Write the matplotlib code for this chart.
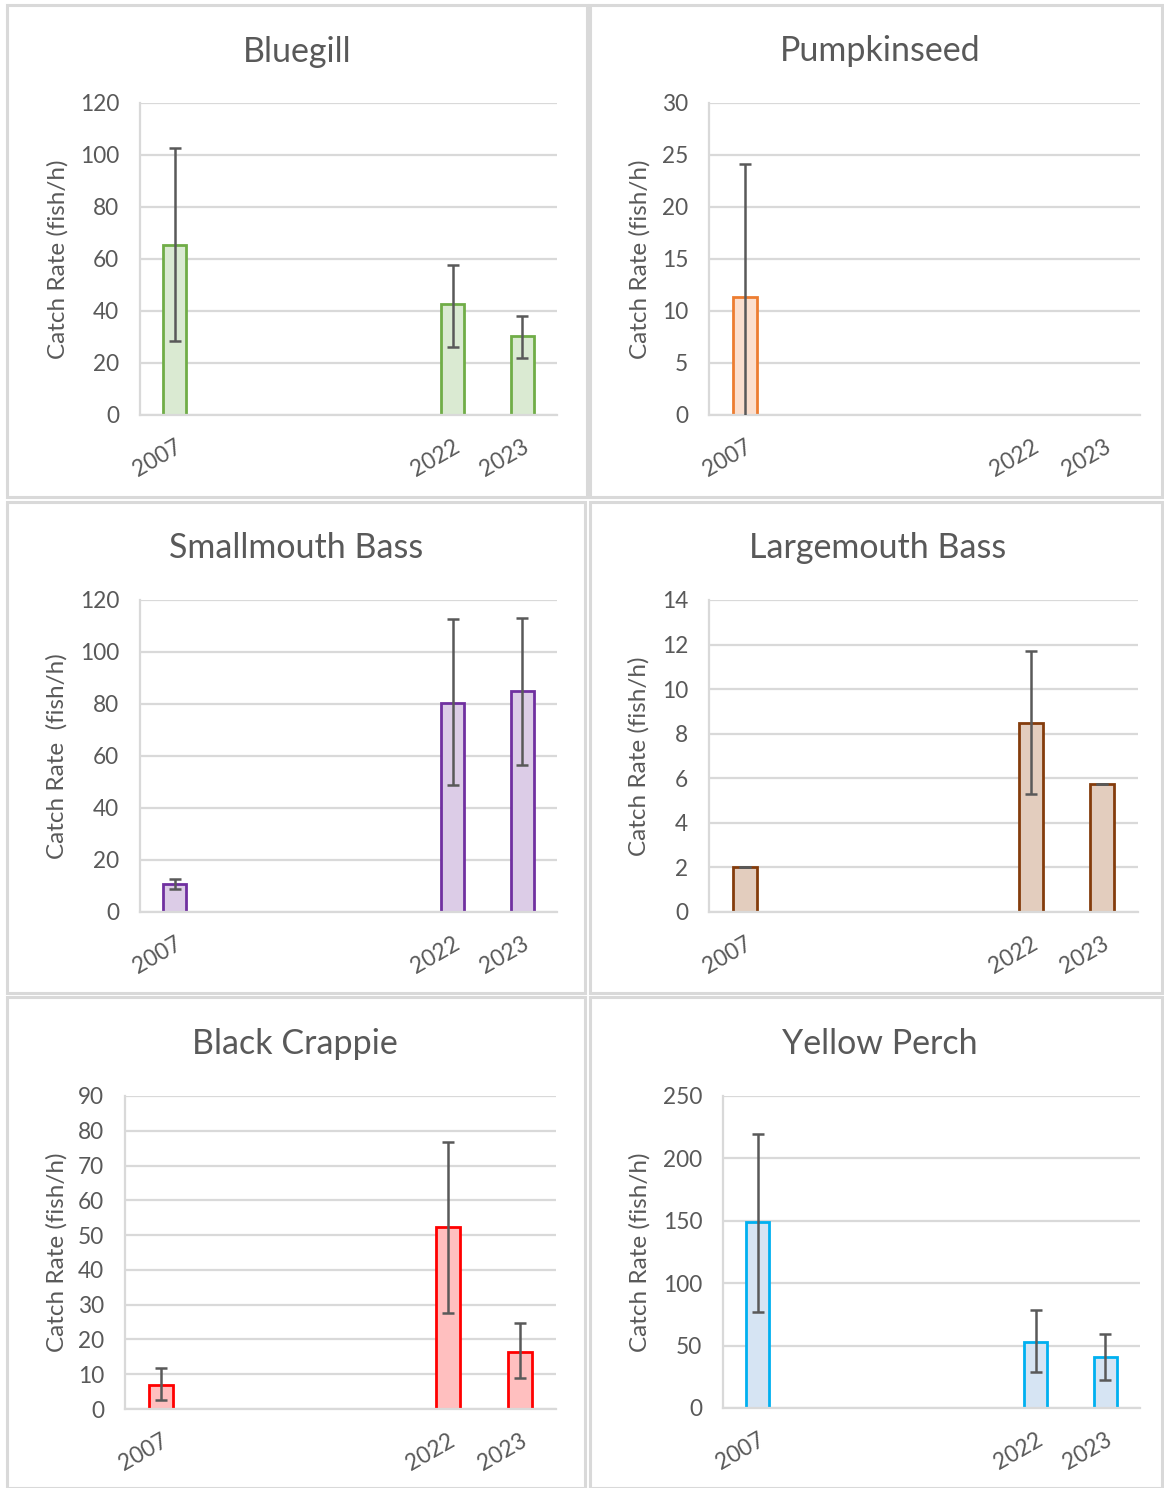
import numpy as np
import matplotlib
matplotlib.use("Agg")
import matplotlib.pyplot as plt
from matplotlib.patches import Rectangle

W, H, DPI = 1164, 1488, 100
nan = np.nan

categories = ["2007", "", "", "", "2022", "2023"]
ylabel_text = "Catch Rate (fish/h)"

# ---- data (mean catch rate and lower/upper error bounds) ----
bluegill_rate = [65.5, nan, nan, nan, 42.5, 30.2]
bluegill_low = [28.6, nan, nan, nan, 26.3, 22.0]
bluegill_high = [102.5, nan, nan, nan, 57.8, 37.9]

pumpkinseed_rate = [11.3, nan, nan, nan, nan, nan]
pumpkinseed_low = [-1.5, nan, nan, nan, nan, nan]
pumpkinseed_high = [24.1, nan, nan, nan, nan, nan]

smallmouth_rate = [10.8, nan, nan, nan, 80.5, 85.0]
smallmouth_low = [8.9, nan, nan, nan, 48.8, 56.5]
smallmouth_high = [12.6, nan, nan, nan, 112.7, 113.2]

largemouth_rate = [2.0, nan, nan, nan, 8.5, 5.75]
largemouth_low = [2.0, nan, nan, nan, 5.3, 5.75]
largemouth_high = [2.0, nan, nan, nan, 11.7, 5.75]

crappie_rate = [7.0, nan, nan, nan, 52.4, 16.5]
crappie_low = [2.7, nan, nan, nan, 27.7, 8.9]
crappie_high = [11.8, nan, nan, nan, 76.8, 24.7]

perch_rate = [149, nan, nan, nan, 53, 41]
perch_low = [77, nan, nan, nan, 29, 22.5]
perch_high = [219.5, nan, nan, nan, 78.5, 59.5]

ymax = [120, 30, 120, 14, 90, 250]
ystep = [20, 5, 20, 2, 10, 50]
titles = ["Bluegill", "Pumpkinseed", "Smallmouth Bass", "Largemouth Bass",
          "Black Crappie", "Yellow Perch"]
ylabels = [ylabel_text, ylabel_text, "Catch Rate  (fish/h)", ylabel_text,
           ylabel_text, ylabel_text]

# ---- style / layout (pixels) ----
edge_colors = ["#70AD47", "#ED7D31", "#7030A0", "#843C0C", "#FF0000", "#00B0F0"]
fill_colors = ["#DAEAD2", "#FBDFCE", "#DCCCE7", "#E3CDBE", "#FFBFBF", "#D6E4F3"]
axes_px = [  # left, right, top, bottom
    (140, 557, 103, 415), (709, 1140, 103, 415),
    (140, 557, 600, 912), (709, 1138, 600, 912),
    (125, 556, 1096, 1409), (723, 1140, 1096, 1408),
]
title_px = [(297, 52), (880, 51), (296, 548), (878, 548), (295, 1044), (880, 1044)]
ylab_x = [58, 640, 57, 639, 57, 640]
panels_px = [
    (7, 5, 587, 497), (590, 5, 1162, 497),
    (7, 502, 585, 993), (590, 502, 1162, 993),
    (7, 997, 585, 1488), (590, 997, 1162, 1488),
]

TXT = "#595959"
GRID = "#D9D9D9"
TICK_FS = 16.3
YLAB_FS = 17.5
TITLE_FS = 24.5
plt.rcParams["font.family"] = ["Lato", "DejaVu Sans"]

fig = plt.figure(figsize=(W / DPI, H / DPI), dpi=DPI)
fig.patch.set_facecolor("white")

for (x0, y0, x1, y1) in panels_px:
    fig.patches.append(Rectangle((x0 / W, 1 - y1 / H), (x1 - x0) / W, (y1 - y0) / H,
                                 transform=fig.transFigure, fill=False,
                                 edgecolor=GRID, linewidth=2.2))

series = [
    (bluegill_rate, bluegill_low, bluegill_high),
    (pumpkinseed_rate, pumpkinseed_low, pumpkinseed_high),
    (smallmouth_rate, smallmouth_low, smallmouth_high),
    (largemouth_rate, largemouth_low, largemouth_high),
    (crappie_rate, crappie_low, crappie_high),
    (perch_rate, perch_low, perch_high),
]

x = np.arange(len(categories))
for i, (rate, low, high) in enumerate(series):
    l, r, t, b = axes_px[i]
    ax = fig.add_axes([l / W, 1 - b / H, (r - l) / W, (b - t) / H])
    rate = np.array(rate, float)
    low = np.array(low, float)
    high = np.array(high, float)
    m = ~np.isnan(rate)
    ax.bar(x[m], rate[m], width=0.33, color=fill_colors[i],
           edgecolor=edge_colors[i], linewidth=2, zorder=2)
    ax.errorbar(x[m], rate[m], yerr=[rate[m] - low[m], high[m] - rate[m]],
                fmt="none", ecolor="#595959", elinewidth=1.8, capsize=4.0,
                capthick=1.8, zorder=3)
    ax.set_xlim(-0.5, len(categories) - 0.5)
    ax.set_ylim(0, ymax[i])
    ax.set_yticks(np.arange(0, ymax[i] + 0.001, ystep[i]))
    ax.yaxis.grid(True, color=GRID, linewidth=1.6)
    ax.set_axisbelow(True)
    for s in ["top", "right"]:
        ax.spines[s].set_visible(False)
    for s in ["left", "bottom"]:
        ax.spines[s].set_color(GRID)
        ax.spines[s].set_linewidth(1.6)
    ax.tick_params(axis="y", length=0, pad=15, labelsize=TICK_FS, labelcolor=TXT)
    ax.tick_params(axis="x", length=0, pad=15, labelsize=TICK_FS, labelcolor=TXT)
    ax.set_xticks(x, categories)
    for lab in ax.get_xticklabels():
        lab.set_rotation(30)
        lab.set_ha("right")
        lab.set_rotation_mode("anchor")
    fig.text(ylab_x[i] / W, 1 - ((t + b) / 2) / H, ylabels[i], rotation=90,
             ha="center", va="center", fontsize=YLAB_FS, color=TXT)
    tx, ty = title_px[i]
    fig.text(tx / W, 1 - ty / H, titles[i], ha="center", va="center",
             fontsize=TITLE_FS, color=TXT)

fig.savefig("out.png", dpi=DPI, facecolor="white")
